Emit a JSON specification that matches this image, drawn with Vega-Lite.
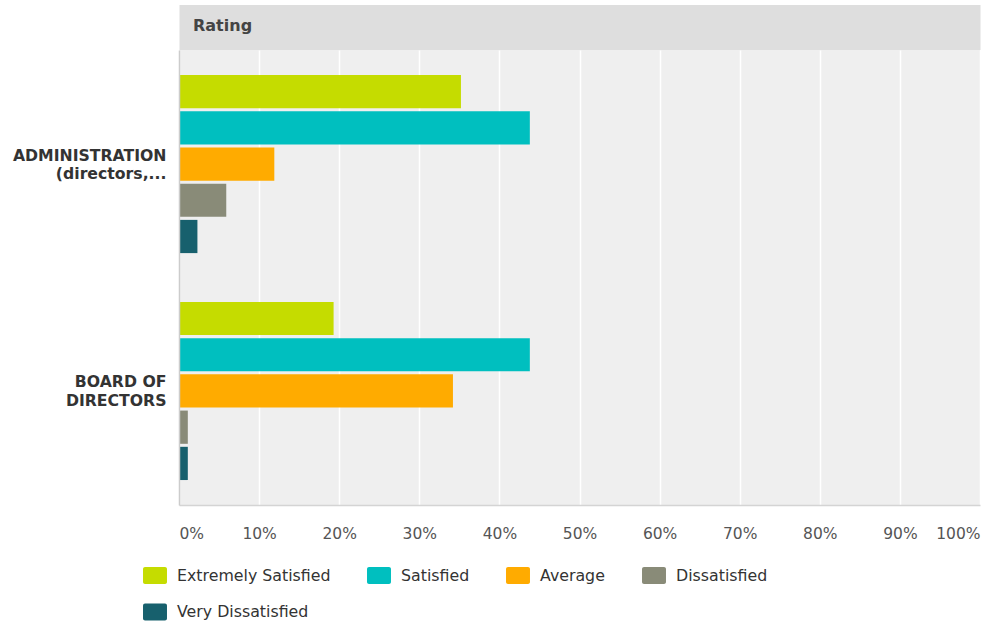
{
  "$schema": "https://vega.github.io/schema/vega-lite/v6.json",
  "width": 801,
  "height": 455,
  "autosize": "none",
  "padding": {"left": 179, "top": 50, "right": 3, "bottom": 118},
  "background": "white",
  "config": {
    "view": {"fill": "#efefef", "stroke": null},
    "font": "DejaVu Sans"
  },
  "data": {
    "values": [
      {"group": "ADMINISTRATION", "rating": "Extremely Satisfied", "pct": 35.2},
      {"group": "ADMINISTRATION", "rating": "Satisfied", "pct": 43.8},
      {"group": "ADMINISTRATION", "rating": "Average", "pct": 11.9},
      {"group": "ADMINISTRATION", "rating": "Dissatisfied", "pct": 5.9},
      {"group": "ADMINISTRATION", "rating": "Very Dissatisfied", "pct": 2.3},
      {"group": "BOARD OF DIRECTORS", "rating": "Extremely Satisfied", "pct": 19.3},
      {"group": "BOARD OF DIRECTORS", "rating": "Satisfied", "pct": 43.8},
      {"group": "BOARD OF DIRECTORS", "rating": "Average", "pct": 34.2},
      {"group": "BOARD OF DIRECTORS", "rating": "Dissatisfied", "pct": 1.1},
      {"group": "BOARD OF DIRECTORS", "rating": "Very Dissatisfied", "pct": 1.1}
    ]
  },
  "layer": [
    {
      "mark": {"type": "bar"},
      "encoding": {
        "x": {
          "field": "pct",
          "type": "quantitative",
          "scale": {"domain": [0, 100], "nice": false},
          "axis": {
            "orient": "bottom",
            "title": null,
            "values": [0, 10, 20, 30, 40, 50, 60, 70, 80, 90, 100],
            "labelExpr": "datum.value + '%'",
            "labelFlush": true,
            "labelFont": "DejaVu Sans",
            "labelFontSize": 15.5,
            "labelColor": "#555555",
            "labelBaseline": "middle",
            "labelPadding": 28,
            "ticks": false,
            "grid": true,
            "gridColor": "#ffffff",
            "gridWidth": 1.5,
            "domain": true,
            "domainColor": "#d4d4d4",
            "domainWidth": 1.5
          }
        },
        "y": {
          "field": "group",
          "type": "nominal",
          "sort": ["ADMINISTRATION", "BOARD OF DIRECTORS"],
          "scale": {"paddingInner": 0.215, "paddingOuter": 0.11},
          "axis": {
            "title": null,
            "zindex": 1,
            "ticks": false,
            "domain": true,
            "domainColor": "#cccccc",
            "domainWidth": 1.5,
            "labelExpr": "datum.value == 'ADMINISTRATION' ? ['ADMINISTRATION', '(directors,...'] : ['BOARD OF', 'DIRECTORS']",
            "labelFont": "DejaVu Sans",
            "labelFontSize": 15.7,
            "labelFontWeight": "bold",
            "labelColor": "#333333",
            "labelLineHeight": 18.5,
            "labelPadding": 13,
            "labelOffset": -8.5,
            "labelLimit": 0
          }
        },
        "yOffset": {
          "field": "rating",
          "type": "nominal",
          "sort": ["Extremely Satisfied", "Satisfied", "Average", "Dissatisfied", "Very Dissatisfied"],
          "scale": {"paddingInner": 0.083, "paddingOuter": 0}
        },
        "color": {
          "field": "rating",
          "type": "nominal",
          "sort": ["Extremely Satisfied", "Satisfied", "Average", "Dissatisfied", "Very Dissatisfied"],
          "scale": {
            "domain": ["Extremely Satisfied", "Satisfied", "Average", "Dissatisfied", "Very Dissatisfied"],
            "range": ["#c5dc00", "#00bfbf", "#ffab00", "#898b78", "#17606d"]
          },
          "legend": {
            "title": null,
            "orient": "none",
            "legendX": -32.5,
            "legendY": 517,
            "direction": "horizontal",
            "columns": 4,
            "gridAlign": "none",
            "columnPadding": 36,
            "rowPadding": 19.5,
            "padding": 0,
            "symbolType": "M-1.175,-1H1.175A0.235,0.235,0,0,1,1.41,-0.765V0.765A0.235,0.235,0,0,1,1.175,1H-1.175A0.235,0.235,0,0,1,-1.41,0.765V-0.765A0.235,0.235,0,0,1,-1.175,-1Z",
            "symbolSize": 289,
            "symbolStrokeWidth": 0,
            "symbolOpacity": 1,
            "labelFont": "DejaVu Sans",
            "labelFontSize": 15.8,
            "labelColor": "#333333",
            "labelOffset": 13.5,
            "labelLimit": 0
          }
        }
      }
    },
    {
      "mark": {"type": "bar", "opacity": 0},
      "encoding": {
        "x": {
          "field": "pct",
          "type": "quantitative",
          "axis": {
            "orient": "top",
            "title": "Rating",
            "titleFont": "DejaVu Sans",
            "titleFontSize": 16,
            "titleFontWeight": "bold",
            "titleColor": "#444444",
            "titleAnchor": "start",
            "titleAlign": "left",
            "titleBaseline": "alphabetic",
            "titleX": 13.5,
            "titleY": 3.5,
            "offset": 23,
            "domain": true,
            "domainColor": "#dedede",
            "domainWidth": 45,
            "domainCap": "butt",
            "ticks": false,
            "labels": false,
            "grid": false
          }
        },
        "y": {"field": "group", "type": "nominal", "sort": ["ADMINISTRATION", "BOARD OF DIRECTORS"]},
        "yOffset": {"field": "rating", "type": "nominal", "sort": ["Extremely Satisfied", "Satisfied", "Average", "Dissatisfied", "Very Dissatisfied"]}
      }
    }
  ],
  "resolve": {"axis": {"x": "independent"}}
}
